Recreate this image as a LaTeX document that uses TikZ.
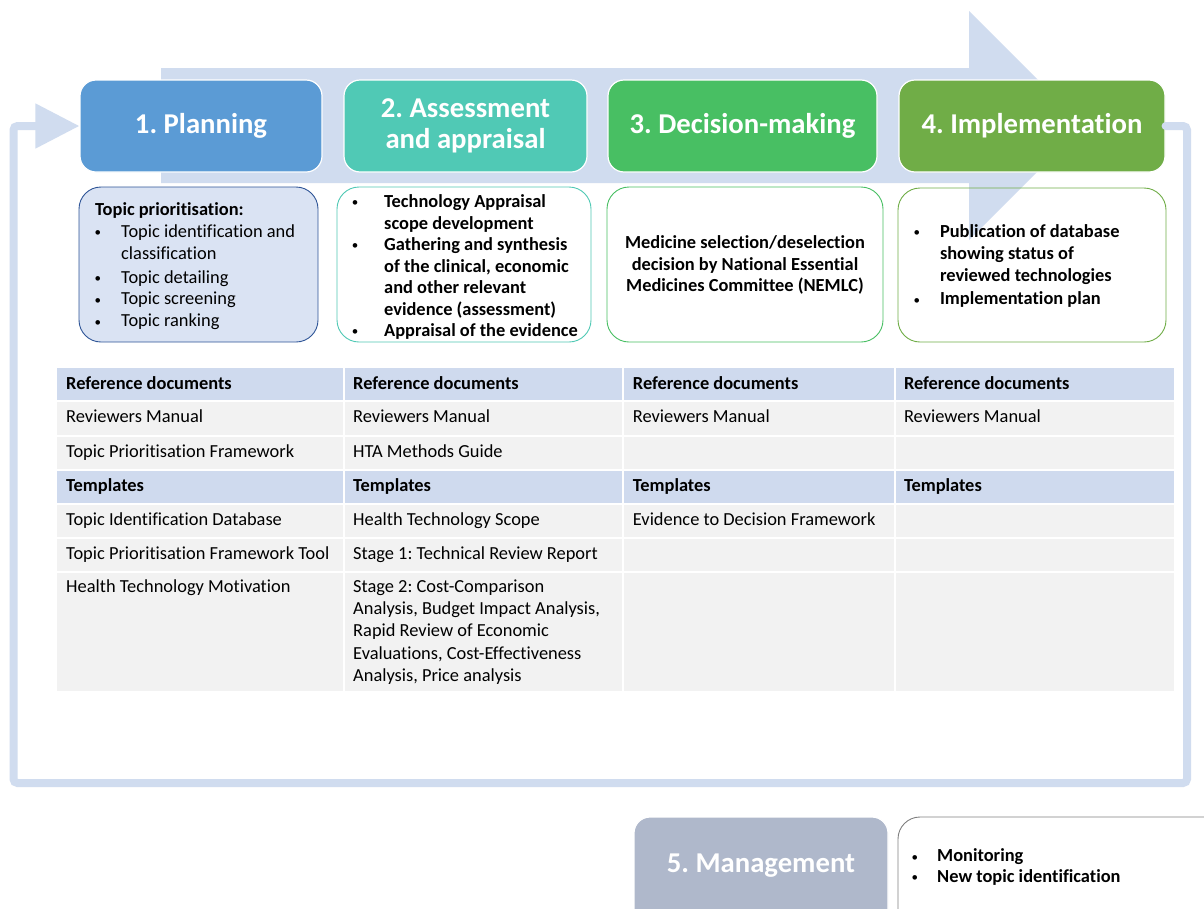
\documentclass[tikz,border=0pt]{standalone}
\usepackage{fontspec}
\setmainfont{Carlito}[Ligatures=NoCommon]
\usetikzlibrary{arrows.meta}
\definecolor{arrowblue}{RGB}{208,220,239}
\definecolor{planblue}{RGB}{91,155,213}
\definecolor{assteal}{RGB}{80,201,181}
\definecolor{decgreen}{RGB}{72,191,99}
\definecolor{impgreen}{RGB}{112,173,71}
\definecolor{mgmtgray}{RGB}{175,184,203}
\definecolor{boxonefill}{RGB}{218,227,243}
\definecolor{boxoneline}{RGB}{47,85,151}
\definecolor{theadfill}{RGB}{207,218,238}
\definecolor{tbodyfill}{RGB}{242,242,242}
\definecolor{mgmtline}{RGB}{128,128,128}

\newcommand\bodyfs{\fontsize{18.4}{21.7}\selectfont}
\newcommand\titlefs{\fontsize{28.7}{30.5}\selectfont\bfseries}
\newcommand\bu{\makebox[0pt][c]{\raisebox{0.6pt}{\fontsize{13}{13}\selectfont\mdseries•}}}
\frenchspacing

\begin{document}
\begin{tikzpicture}[x=1pt,y=-1pt,
  phase/.style={rectangle, rounded corners=16pt, draw=white, line width=1.2pt,
    text=white, font=\titlefs, align=center, inner sep=0},
  detail/.style={rectangle, rounded corners=22pt, line width=0.9pt, inner sep=0},
  txt/.style={inner sep=0, font=\bodyfs, anchor=base west},
  btxt/.style={txt, font=\bodyfs\bfseries},
  loopline/.style={draw=arrowblue, line width=8pt, rounded corners=4pt, line cap=round,
    -{Triangle[length=44pt,width=43pt]}},
  sep/.style={draw=white, line width=2pt}
]
\useasboundingbox (0,0) rectangle (1204,908);
\clip (0,0) rectangle (1204,908);
\fill[white] (0,0) rectangle (1204,908);

% big process arrow
\fill[arrowblue] (161,68) -- (969,68) -- (969,11) -- (1083.5,125.5) -- (969,240)
  -- (969,183) -- (161,183) -- cycle;

% phase boxes
\node[phase, fill=planblue, minimum width=242pt, minimum height=92pt] (p1) at (201,126) {1. Planning};
\node[phase, fill=assteal, minimum width=243pt, minimum height=92pt] (p2) at (465.5,126) {2. Assessment\\and appraisal};
\node[phase, fill=decgreen, minimum width=269pt, minimum height=92pt] (p3) at (742.5,126) {3. Decision-making};
\node[phase, fill=impgreen, minimum width=266pt, minimum height=92pt] (p4) at (1032,126) {4. Implementation};

% detail boxes
\node[detail, draw=boxoneline, fill=boxonefill, minimum width=239pt, minimum height=155pt] (d1) at (198.5,264.5) {};
\node[detail, draw=assteal, fill=white, minimum width=254pt, minimum height=155pt] (d2) at (464,264.5) {};
\node[detail, draw=decgreen, fill=white, minimum width=276pt, minimum height=155pt] (d3) at (745,264.5) {};
\node[detail, draw=impgreen, minimum width=268pt, minimum height=154pt] (d4) at (1032,265) {};

% detail texts
\node[btxt] (t1h) at (95,215) {Topic prioritisation:};
\node[txt] (t1) at (97.6,237.5) {\bodyfs\begin{tabular}[t]{@{}p{23.4pt}@{}l@{}}
\bu & Topic identification and\\
    & classification\\[2.3pt]
\bu & Topic detailing\\
\bu & Topic screening\\[0.3pt]
\bu & Topic ranking
\end{tabular}};

\node[btxt] (t2) at (355,207.5) {\fontsize{18.4}{21.5}\selectfont\bfseries\begin{tabular}[t]{@{}p{29pt}@{}l@{}}
\bu & Technology Appraisal\\
    & scope development\\
\bu & Gathering and synthesis\\
    & of the clinical, economic\\
    & and other relevant\\
    & evidence (assessment)\\
\bu & Appraisal of the evidence
\end{tabular}};

\node[btxt, anchor=base] (t3) at (745,248.5) {\bodyfs\bfseries\begin{tabular}[t]{@{}c@{}}
Medicine selection/deselection\\
decision by National Essential\\
Medicines Committee (NEMLC)
\end{tabular}};

\node[btxt] (t4) at (916.6,237.5) {\bodyfs\bfseries\begin{tabular}[t]{@{}p{23.2pt}@{}l@{}}
\bu & Publication of database\\
    & showing status of\\[0.9pt]
    & reviewed technologies\\[1.3pt]
\bu & Implementation plan
\end{tabular}};

% table
\fill[theadfill] (57,368) rectangle (1174,401);
\fill[tbodyfill] (57,401) rectangle (1174,470);
\fill[theadfill] (57,470) rectangle (1174,504);
\fill[tbodyfill] (57,504) rectangle (1174,691);
\foreach \yy in {401,436,470,504,538,572} \draw[sep] (57,\yy) -- (1174,\yy);
\foreach \xx in {344,623,895} \draw[sep] (\xx,368) -- (\xx,691);

\foreach \xx in {66,353,632.7,903.8} {
  \node[btxt] at (\xx,389.6) {Reference documents};
  \node[txt] at (\xx,422.4) {Reviewers Manual};
  \node[btxt] at (\xx,491.3) {Templates};
}
\node[txt] (c31) at (66,457.3) {Topic Prioritisation Framework};
\node[txt] (c32) at (353,457.3) {HTA Methods Guide};
\node[txt] (c51) at (66,525.6) {Topic Identification Database};
\node[txt] (c52) at (353,525.6) {Health Technology Scope};
\node[txt] (c53) at (632.7,525.6) {Evidence to Decision Framework};
\node[txt] (c61) at (66,559.6) {Topic Prioritisation Framework Tool};
\node[txt] (c62) at (353,559.6) {Stage 1: Technical Review Report};
\node[txt] (c71) at (66,592.3) {Health Technology Motivation};
\node[txt] (c72) at (353,592.3) {\fontsize{18.4}{22.3}\selectfont\begin{tabular}[t]{@{}l@{}}
Stage 2: Cost-Comparison\\
Analysis, Budget Impact Analysis,\\
Rapid Review of Economic\\
Evaluations, Cost-Effectiveness\\
Analysis, Price analysis
\end{tabular}};

% feedback loop
\draw[loopline] (p4.east) -- (1187,126) -- (1187,783) -- (13.5,783) -- (13.5,126) -- (p1.west);

% management
\node[rectangle, rounded corners=16pt, fill=mgmtgray, draw=white, line width=1.2pt,
  minimum width=254pt, minimum height=130pt, inner sep=0] (m5) at (761,882) {};
\node[inner sep=0, text=white, font=\titlefs] (m5t) at (761,866) {5. Management};
\node[detail, draw=mgmtline, fill=white, minimum width=340pt, minimum height=130pt] (m6) at (1068,882) {};
\node[btxt] (t6) at (914.6,861.6) {\fontsize{18.4}{20.7}\selectfont\bfseries\begin{tabular}[t]{@{}p{22.4pt}@{}l@{}}
\bu & Monitoring\\
\bu & New topic identification
\end{tabular}};
\end{tikzpicture}
\end{document}
